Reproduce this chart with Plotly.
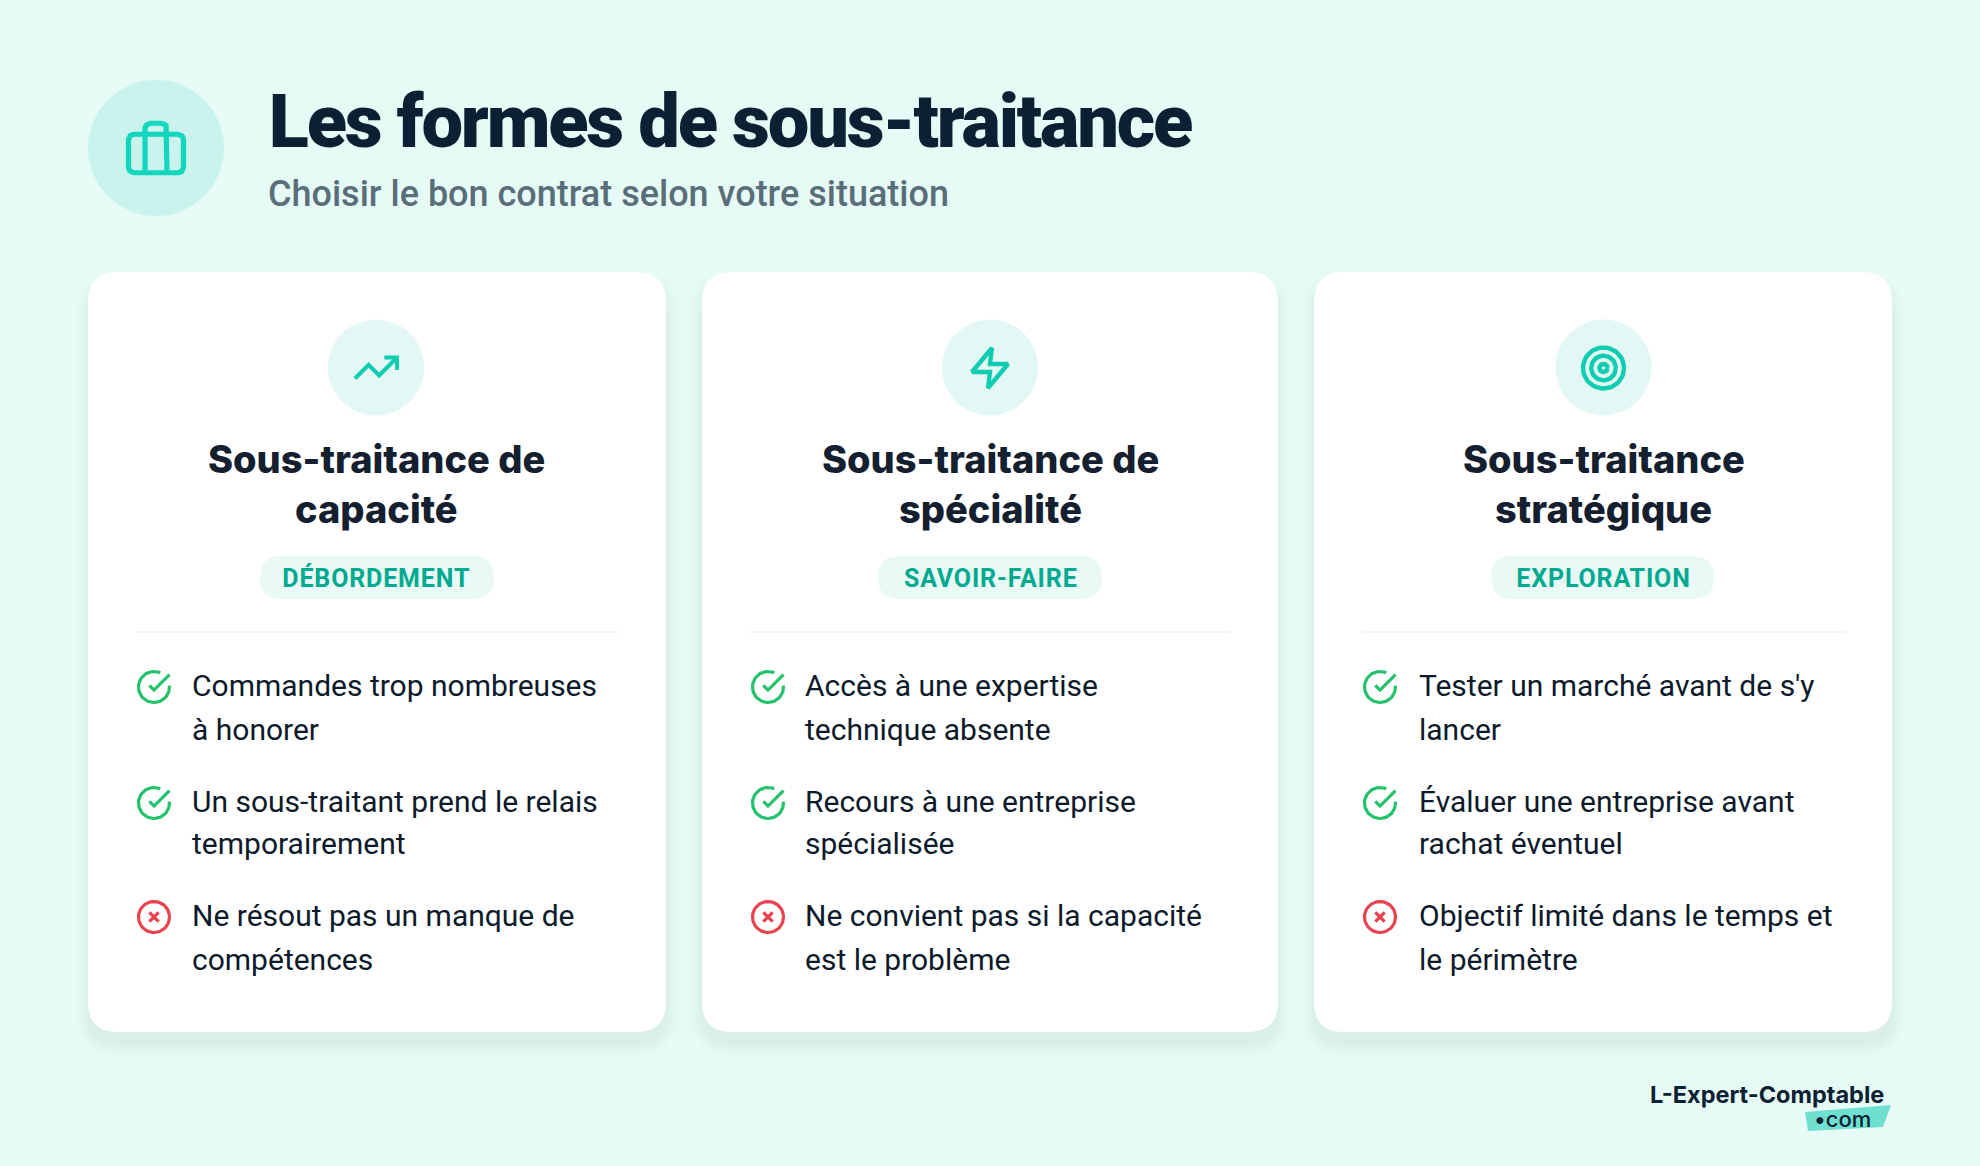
import json
import math
import plotly.graph_objects as go

TITLE = "Les formes de sous-traitance"
SUBTITLE = "Choisir le bon contrat selon votre situation"
CARD_TITLES = [["Sous-traitance de", "capacité"], ["Sous-traitance de", "spécialité"], ["Sous-traitance", "stratégique"]]
CARD_TAGS = ["DÉBORDEMENT", "SAVOIR-FAIRE", "EXPLORATION"]
CARD_ITEMS = [
    [["Commandes trop nombreuses", "à honorer"], ["Un sous-traitant prend le relais", "temporairement"], ["Ne résout pas un manque de", "compétences"]],
    [["Accès à une expertise", "technique absente"], ["Recours à une entreprise", "spécialisée"], ["Ne convient pas si la capacité", "est le problème"]],
    [["Tester un marché avant de s'y", "lancer"], ["Évaluer une entreprise avant", "rachat éventuel"], ["Objectif limité dans le temps et", "le périmètre"]],
]
ITEM_OK = [True, True, False]
LOGO_NAME = "L-Expert-Comptable"
LOGO_TLD = "•com"

BG, INK, GREY = "#E6FBF5", "#0B2033", "#5A6E79"
TEAL, TEAL2, PALE = "#12D6BD", "#10CDB2", "#E3F8F5"
GREEN, RED = "#24C26C", "#E8434F"

CARD_X = [(88, 666), (702, 1278), (1314, 1892)]
PILL_X = [(260, 494), (878, 1102), (1491, 1714)]
DIV_X = [(135, 619), (749, 1230), (1363, 1845)]
CENTER = [376, 990, 1603.5]
ICON_X = [154, 768, 1380]
TEXT_X = [189.5, 802.5, 1416.5]
ITEM_Y = [(687, 685, 729), (803, 801, 843), (917, 915, 959)]

fig = go.Figure()
shapes, notes = [], []


def rrect(x0, y0, x1, y1, r):
    return (f"M{x0+r},{y0} L{x1-r},{y0} Q{x1},{y0} {x1},{y0+r} L{x1},{y1-r} Q{x1},{y1} {x1-r},{y1} "
            f"L{x0+r},{y1} Q{x0},{y1} {x0},{y1-r} L{x0},{y0+r} Q{x0},{y0} {x0+r},{y0} Z")


def fill(path, color, opacity=1.0):
    shapes.append(dict(type="path", path=path, fillcolor=color, opacity=opacity, line=dict(width=0), layer="below"))


def disc(cx, cy, r, color):
    shapes.append(dict(type="circle", x0=cx-r, x1=cx+r, y0=cy-r, y1=cy+r, fillcolor=color, line=dict(width=0), layer="below"))


def text(x, y, s, size, color, weight=400, family="Roboto", anchor="left"):
    notes.append(dict(x=x, y=y, text=s, showarrow=False, xanchor=anchor, yanchor="middle",
                      font=dict(family=family, size=size, color=color, weight=weight)))


def arc(cx, cy, r, a0, a1, n=60):
    return [(cx + r*math.cos(math.radians(a0 + (a1-a0)*i/n)), cy + r*math.sin(math.radians(a0 + (a1-a0)*i/n))) for i in range(n+1)]


def stroke(cx, cy, k, pts, color, width):
    fig.add_trace(go.Scatter(x=[cx + (p[0]-12)*k for p in pts], y=[cy + (p[1]-12)*k for p in pts], mode="lines",
                             line=dict(color=color, width=width), hoverinfo="skip", showlegend=False))


def rounded_box(x0, y0, x1, y1, r):
    pts = arc(x0+r, y0+r, r, 180, 270, 8) + arc(x1-r, y0+r, r, 270, 360, 8) + arc(x1-r, y1-r, r, 0, 90, 8) + arc(x0+r, y1-r, r, 90, 180, 8)
    return pts + [pts[0], pts[1]]


def briefcase(cx, cy):
    k = 2.75
    stroke(cx, cy, k, rounded_box(2, 7, 22, 21, 2), TEAL, 5.2)
    handle = [(16, 21), (16, 5)] + arc(14, 5, 2, 0, -90, 8) + arc(10, 5, 2, 270, 180, 8) + [(8, 21)]
    stroke(cx, cy, k, handle, TEAL, 5.2)


def trend(cx, cy):
    stroke(cx, cy, 2.1, [(2, 17), (8.5, 10.5), (13.5, 15.5), (22, 7)], TEAL2, 4)
    stroke(cx, cy, 2.1, [(16, 7), (22, 7), (22, 13)], TEAL2, 4)


def zap(cx, cy):
    pts = [(13, 2), (3, 14), (12, 14), (11, 22), (21, 10), (12, 10), (13, 2), (3, 14)]
    stroke(cx, cy, 2.0, pts, TEAL2, 4.4)


def target(cx, cy):
    for r in (10, 6, 2):
        stroke(cx, cy, 2.05, arc(12, 12, r, 0, 360), TEAL2, 4.4)


def check_icon(cx, cy):
    k = 1.55
    stroke(cx, cy, k, [(22, 11.08), (22, 12)] + arc(12, 12, 10, 0, 294), GREEN, 3.2)
    stroke(cx, cy, k, [(9, 11), (12, 14), (22, 4)], GREEN, 3.2)


def cross_icon(cx, cy):
    k = 1.55
    stroke(cx, cy, k, arc(12, 12, 10, 0, 360), RED, 3.2)
    stroke(cx, cy, k, [(15, 9), (9, 15)], RED, 3.2)
    stroke(cx, cy, k, [(9, 9), (15, 15)], RED, 3.2)


# header
disc(156, 148, 68, "#C9F3EC")
briefcase(156, 148)
text(729.5, 121, TITLE, 74, INK, 900, "Roboto", "center")
text(265.5, 194, SUBTITLE, 36, GREY, 500)

# cards
for c in range(3):
    x0, x1 = CARD_X[c]
    for i in range(12):
        fill(rrect(x0-i*1.1, 272+12-i*1.1, x1+i*1.1, 1032+12+i*1.1, 30+i*1.1), "#0A5A46", 0.0022)
    fill(rrect(x0, 272, x1, 1032, 30), "#FFFFFF")
    disc(CENTER[c], 367.5, 48, PALE)
    text(CENTER[c], 459, CARD_TITLES[c][0], 38, "#14202F", 800, "Inter", "center")
    text(CENTER[c], 509, CARD_TITLES[c][1], 38, "#14202F", 800, "Inter", "center")
    px0, px1 = PILL_X[c]
    fill(rrect(px0, 556, px1, 599, 21.5), "#E8F9F6")
    text(CENTER[c], 578, CARD_TAGS[c], 25, "#00A98F", 700, "Roboto", "center")
    shapes.append(dict(type="line", x0=DIV_X[c][0], x1=DIV_X[c][1], y0=632, y1=632, line=dict(color="#EEF2F1", width=1.5), layer="below"))
    for j, item in enumerate(CARD_ITEMS[c]):
        iy, y1, y2 = ITEM_Y[j]
        (check_icon if ITEM_OK[j] else cross_icon)(ICON_X[c], iy)
        text(TEXT_X[c], y1, item[0], 30, "#0C1A2B")
        text(TEXT_X[c], y2, item[1], 30, "#0C1A2B")

trend(CENTER[0], 368)
zap(CENTER[1], 368)
target(CENTER[2], 368)

# logo
fill("M1805,1112 L1891,1105 L1883,1127 L1808,1131 Z", "#6FDFD0")
text(1767, 1094, LOGO_NAME, 23.5, INK, 700, "Inter", "center")
text(1842, 1119, LOGO_TLD, 22, INK, 500, "Inter", "center")

fig.update_layout(
    width=1980, height=1166, margin=dict(l=0, r=0, t=0, b=0), autosize=False,
    paper_bgcolor=BG, plot_bgcolor=BG, showlegend=False,
    xaxis=dict(range=[0, 1980], visible=False, fixedrange=True),
    yaxis=dict(range=[1166, 0], visible=False, fixedrange=True),
    shapes=shapes, annotations=notes,
)
spacing = {TITLE: "-2.2px", **{t: "0.85px" for t in CARD_TAGS}}
post = ("document.body.style.margin='0';document.body.style.background='" + BG + "';"
        "var sp=" + json.dumps(spacing, ensure_ascii=False) + ";"
        "var ap=function(){document.querySelectorAll('text.annotation-text').forEach(function(t){"
        "var v=sp[t.textContent];if(v){t.style.letterSpacing=v;}});};ap();setTimeout(ap,100);setTimeout(ap,500);")
fig.write_html("out.html", config=dict(displayModeBar=False), post_script=post)
